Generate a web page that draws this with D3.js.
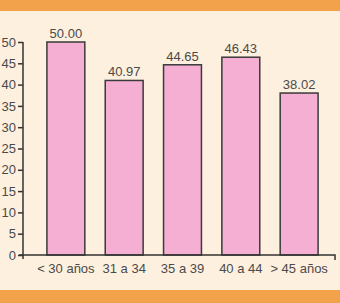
<!DOCTYPE html>
<html>
<head>
<meta charset="utf-8">
<script src="https://cdn.jsdelivr.net/npm/d3@7"></script>
<style>
  body { margin: 0; background: #fef0de; }
  text { font-family: "Liberation Sans", Arial, sans-serif; fill: #4a4a4a; }
</style>
</head>
<body>
<div id="chart"></div>
<script>
const categories = ['< 30 años', '31 a 34', '35 a 39', '40 a 44', '> 45 años']
const values = [50.00, 40.97, 44.65, 46.43, 38.02]
const yTicks = [0, 5, 10, 15, 20, 25, 30, 35, 40, 45, 50]

const width = 340, height = 303

const svg = d3.select('#chart').append('svg')
    .attr('width', width)
    .attr('height', height)

// background + orange bands
svg.append('rect').attr('width', width).attr('height', height).attr('fill', '#fef0de')
svg.append('rect').attr('width', width).attr('height', 11).attr('fill', '#f1a24b')
svg.append('rect').attr('y', 290).attr('width', width).attr('height', 13).attr('fill', '#f1a24b')

const y = d3.scaleLinear().domain([0, 50]).range([255, 42])
const x = d3.scaleBand().domain(categories)
    .range([23, 342])
    .paddingInner(0.35)
    .paddingOuter(0.41)

// y axis
const yAxis = svg.append('g')
    .attr('transform', 'translate(23,0)')
    .call(d3.axisLeft(y).tickValues(yTicks).tickSize(5).tickSizeOuter(0).tickPadding(2))
yAxis.select('.domain').remove()
yAxis.selectAll('line').attr('stroke', '#333').attr('stroke-width', 1.5)
yAxis.selectAll('text').attr('font-size', 13).attr('fill', '#555').style('font-family', '"Liberation Sans", Arial, sans-serif')
yAxis.append('line')
    .attr('x1', 0).attr('x2', 0)
    .attr('y1', y(50)).attr('y2', y(0) + 4)
    .attr('stroke', '#333').attr('stroke-width', 1.5)

// bars
svg.append('g').selectAll('rect')
    .data(values)
    .join('rect')
    .attr('x', (d, i) => x(categories[i]))
    .attr('y', d => y(d))
    .attr('width', x.bandwidth())
    .attr('height', d => y(0) - y(d))
    .attr('fill', '#f5afd3')
    .attr('stroke', '#3a3a3a')
    .attr('stroke-width', 1.5)

// value labels
svg.append('g').selectAll('text')
    .data(values)
    .join('text')
    .attr('x', (d, i) => x(categories[i]) + x.bandwidth() / 2)
    .attr('y', d => y(d) - 4)
    .attr('text-anchor', 'middle')
    .attr('font-size', 13)
    .text(d => d.toFixed(2))

// x axis
const xAxis = svg.append('g')
    .attr('transform', `translate(0,${y(0)})`)
    .call(d3.axisBottom(x).tickSize(0).tickPadding(9))
xAxis.select('.domain').remove()
xAxis.selectAll('text').attr('font-size', 13).attr('fill', '#555').style('font-family', '"Liberation Sans", Arial, sans-serif')
xAxis.append('path')
    .attr('d', 'M19,0H335V5')
    .attr('fill', 'none')
    .attr('stroke', '#333')
    .attr('stroke-width', 1.5)
</script>
</body>
</html>
